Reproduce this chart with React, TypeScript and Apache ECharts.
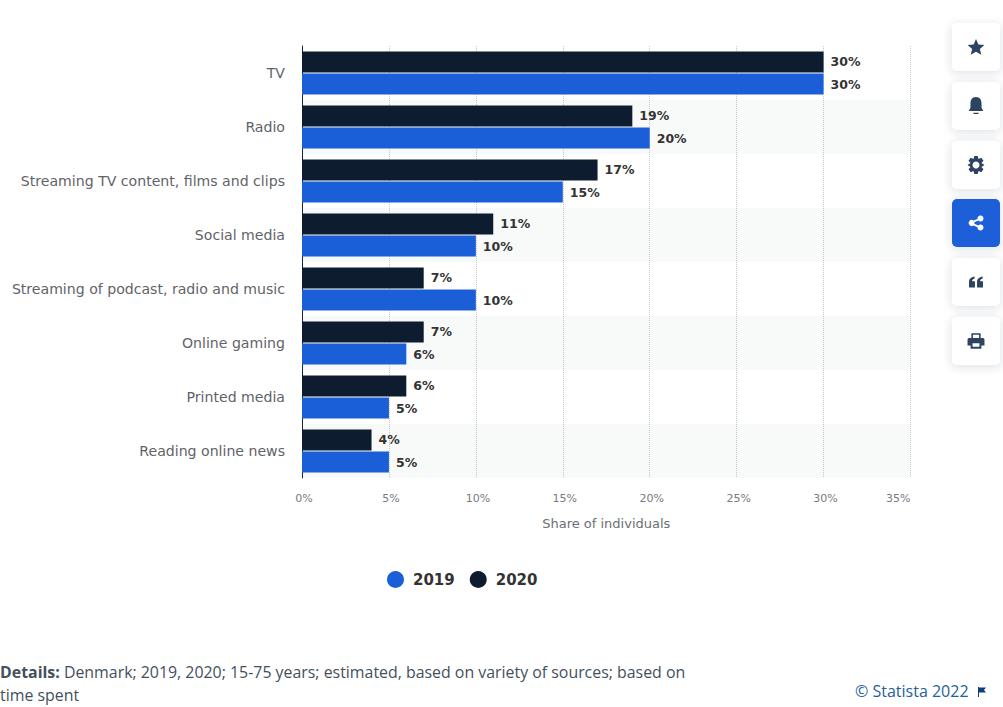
import React, { useEffect, useRef } from "react";
import * as echarts from "echarts";

const categories = [
  "TV",
  "Radio",
  "Streaming TV content, films and clips",
  "Social media",
  "Streaming of podcast, radio and music",
  "Online gaming",
  "Printed media",
  "Reading online news",
];
const values2019 = [30, 20, 15, 10, 10, 6, 5, 5];
const values2020 = [30, 19, 17, 11, 7, 7, 6, 4];
const xTicksMax = 35;
const xTicksStep = 5;

const BLUE = "#1a5fd8";
const NAVY = "#0d1c2f";
const ICON = "#2c4460";
const UI_FONT = "'DejaVu Sans', sans-serif";
const NOTE_FONT = "'Open Sans', sans-serif";

// Toolbar glyphs, drawn on a 24-unit square
const glyphs: Record<string, string> = {
  tbStar: "M12 2 L15 9 L22.5 9.6 L16.8 14.4 L18.6 21.8 L12 17.8 L5.4 21.8 L7.2 14.4 L1.5 9.6 L9 9 Z",
  tbBell: "M12 1.5 C7.5 1.5 5.5 5 5.5 9 L5.5 14 L3.5 18 L20.5 18 L18.5 14 L18.5 9 C18.5 5 16.5 1.5 12 1.5 Z M9 20 L15 20 L15 21.5 L9 21.5 Z",
  tbGear: "M10 1.5 L14 1.5 L15 5 L18.2 3.4 L20.8 7 L18.4 9.6 L22 12 L18.4 14.4 L20.8 17 L18.2 20.6 L15 19 L14 22.5 L10 22.5 L9 19 L5.8 20.6 L3.2 17 L5.6 14.4 L2 12 L5.6 9.6 L3.2 7 L5.8 3.4 L9 5 Z",
  tbShare: "M18 2 A4 4 0 1 1 15.1 8.8 L9.8 11 A4 4 0 0 1 9.8 13 L15.1 15.2 A4 4 0 1 1 14 17.5 L8.6 15.2 A4 4 0 1 1 8.6 8.8 L14 6.5 A4 4 0 0 1 18 2 Z",
  tbQuote: "M2 20 L2 12 C2 7 5 5 10 4 L10 7 C7.5 7.5 6.5 9 6.5 11 L10.5 11 L10.5 20 Z M13.5 20 L13.5 12 C13.5 7 16.5 5 21.5 4 L21.5 7 C19 7.5 18 9 18 11 L22 11 L22 20 Z",
  tbPrint: "M6 2 L18 2 L18 8 L21 8 Q23 8 23 10 L23 18 L19 18 L19 22 L5 22 L5 18 L1 18 L1 10 Q1 8 3 8 L6 8 Z M8 4 L8 8 L16 8 L16 4 Z M7.5 15 L7.5 19.5 L16.5 19.5 L16.5 15 Z",
  tbFlag: "M4 2 L6 2 L6 3 L20 3 L16 8 L20 13 L6 13 L6 22 L4 22 Z",
};
Object.entries(glyphs).forEach(([name, d]) => {
  echarts.graphic.registerShape(name, echarts.graphic.extendPath(d, {}));
});

const glyphScale: Record<string, number> = {
  tbStar: 0.8,
  tbBell: 0.85,
  tbGear: 0.85,
  tbShare: 0.75,
  tbQuote: 0.7,
  tbPrint: 0.77,
};

const toolbar = [
  { top: 23, glyph: "tbStar", active: false },
  { top: 82, glyph: "tbBell", active: false },
  { top: 141, glyph: "tbGear", active: false },
  { top: 199, glyph: "tbShare", active: true },
  { top: 258, glyph: "tbQuote", active: false },
  { top: 317, glyph: "tbPrint", active: false },
];

function toolbarElements() {
  const items: any[] = [];
  toolbar.forEach((b) => {
    items.push({
      type: "rect",
      shape: { x: 952, y: b.top, width: 48, height: 48, r: 5 },
      style: {
        fill: b.active ? BLUE : "#ffffff",
        shadowBlur: 10,
        shadowColor: "rgba(40,60,90,0.16)",
        shadowOffsetY: 2,
      },
    });
    const scale = glyphScale[b.glyph];
    const offset = 12 * scale;
    items.push({
      type: b.glyph,
      x: 976 - offset,
      y: b.top + 24 - offset,
      scaleX: scale,
      scaleY: scale,
      style: { fill: b.active ? "#ffffff" : ICON },
    });
    if (b.glyph === "tbGear") {
      items.push({
        type: "circle",
        shape: { cx: 976, cy: b.top + 24, r: 3.5 },
        style: { fill: "#ffffff" },
      });
    }
  });
  return items;
}

export default function App() {
  const ref = useRef<HTMLDivElement>(null);

  useEffect(() => {
    if (!ref.current) return;
    const chart = echarts.init(ref.current, undefined, { renderer: "svg" });
    const barLabel = {
      show: true,
      position: "right" as const,
      distance: 7,
      formatter: "{c}%",
      color: "#333333",
      fontFamily: UI_FONT,
      fontWeight: "bold" as const,
      fontSize: 12.5,
    };
    chart.setOption({
      animation: false,
      backgroundColor: "#ffffff",
      grid: { left: 302, top: 46, width: 608.5, height: 432, containLabel: false },
      legend: {
        left: 382,
        top: 566,
        icon: "circle",
        itemWidth: 17,
        itemHeight: 17,
        itemGap: 15,
        selectedMode: false,
        data: ["2019", "2020"],
        textStyle: {
          color: "#333333",
          fontFamily: UI_FONT,
          fontWeight: "bold",
          fontSize: 15,
          padding: [0, 0, 0, 4],
        },
      },
      xAxis: {
        type: "value",
        min: 0,
        max: xTicksMax,
        interval: xTicksStep,
        name: "Share of individuals",
        nameLocation: "middle",
        nameGap: 39,
        nameTextStyle: { color: "#6b6f73", fontFamily: UI_FONT, fontSize: 13 },
        axisLine: { show: false },
        axisTick: { show: false },
        axisLabel: {
          formatter: "{value}%",
          color: "#777b80",
          fontFamily: UI_FONT,
          fontSize: 11,
          margin: 15,
          padding: [0, 0, 0, 4],
          alignMaxLabel: "right",
        },
        splitLine: { show: true, lineStyle: { color: "#c4c8cc", type: "dotted", width: 1 } },
      },
      yAxis: {
        type: "category",
        inverse: true,
        data: categories,
        axisLine: { show: true, lineStyle: { color: "#1c2430", width: 1 } },
        axisTick: { show: false },
        axisLabel: {
          color: "#5f6368",
          fontFamily: UI_FONT,
          fontSize: 14.1,
          margin: 17,
        },
        splitLine: { show: false },
        splitArea: { show: true, areaStyle: { color: ["#ffffff", "#f8f9f9"] } },
      },
      series: [
        {
          name: "2020",
          type: "bar",
          data: values2020,
          barWidth: 21,
          barGap: "5%",
          itemStyle: { color: NAVY },
          label: barLabel,
        },
        {
          name: "2019",
          type: "bar",
          data: values2019,
          barWidth: 21,
          barGap: "5%",
          itemStyle: { color: BLUE },
          label: barLabel,
        },
      ],
      graphic: [
        {
          type: "group",
          silent: true,
          children: [
            ...toolbarElements(),
            {
              type: "text",
              x: 0,
              y: 664,
              style: {
                text: "{b|Details:} Denmark; 2019, 2020; 15-75 years; estimated, based on variety of sources; based on",
                rich: {
                  b: { fontFamily: NOTE_FONT, fontWeight: "bold", fontSize: 15.9, fill: "#44505c" },
                },
                fontFamily: NOTE_FONT,
                fontSize: 15.9,
                fill: "#44505c",
              },
            },
            {
              type: "text",
              x: 0,
              y: 687,
              style: {
                text: "time spent",
                fontFamily: NOTE_FONT,
                fontSize: 15.9,
                fill: "#44505c",
              },
            },
            {
              type: "text",
              x: 855,
              y: 683,
              style: {
                text: "© Statista 2022",
                fontFamily: NOTE_FONT,
                fontSize: 16,
                fill: "#24609f",
              },
            },
            {
              type: "tbFlag",
              x: 976,
              y: 686,
              scaleX: 0.5,
              scaleY: 0.5,
              style: { fill: "#0f3f78" },
            },
          ],
        },
      ],
    });
    return () => chart.dispose();
  }, []);

  return (
    <div
      ref={ref}
      style={{ position: "fixed", left: 0, top: 0, width: 1003, height: 707 }}
    />
  );
}
